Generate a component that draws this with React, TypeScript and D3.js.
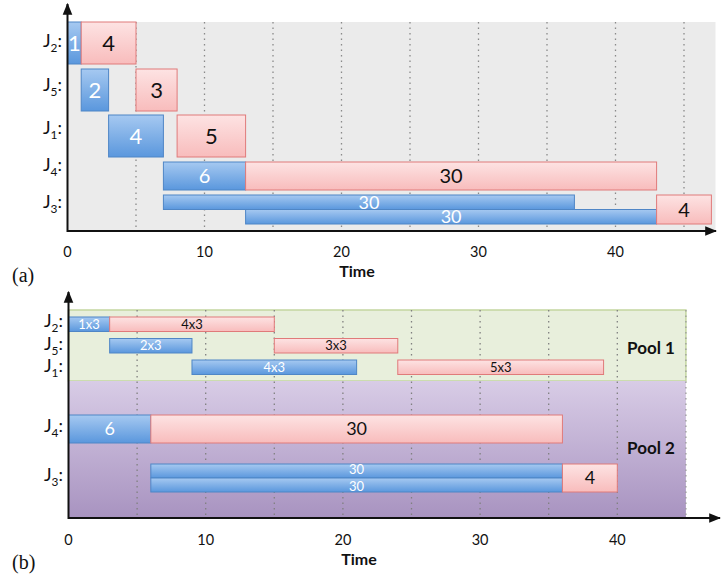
import React from "react";
import * as d3 from "d3";

// ---------- DATA ----------
const jobsA = ["2", "5", "1", "4", "3"]; // row order, top to bottom
const jobsB = ["2", "5", "1", "4", "3"];
const xTicks = [0, 10, 20, 30, 40];
const gridTicks = [5, 10, 15, 20, 25, 30, 35, 40, 45];

// (a) tasks: job, phase (map/reduce), start, duration, label, lane (sub-row)
const tasksA = [
  { job: "2", phase: "map", start: 0, dur: 1, label: "1", lane: 0 },
  { job: "2", phase: "reduce", start: 1, dur: 4, label: "4", lane: 0 },
  { job: "5", phase: "map", start: 1, dur: 2, label: "2", lane: 0 },
  { job: "5", phase: "reduce", start: 5, dur: 3, label: "3", lane: 0 },
  { job: "1", phase: "map", start: 3, dur: 4, label: "4", lane: 0 },
  { job: "1", phase: "reduce", start: 8, dur: 5, label: "5", lane: 0 },
  { job: "4", phase: "map", start: 7, dur: 6, label: "6", lane: 0 },
  { job: "4", phase: "reduce", start: 13, dur: 30, label: "30", lane: 0 },
  { job: "3", phase: "map", start: 7, dur: 30, label: "30", lane: 0 },
  { job: "3", phase: "map", start: 13, dur: 30, label: "30", lane: 1 },
  { job: "3", phase: "reduce", start: 43, dur: 4, label: "4", lane: -1 },
];

// (b) tasks
const tasksB = [
  { job: "2", phase: "map", start: 0, dur: 3, label: "1x3", lane: 0 },
  { job: "2", phase: "reduce", start: 3, dur: 12, label: "4x3", lane: 0 },
  { job: "5", phase: "map", start: 3, dur: 6, label: "2x3", lane: 0 },
  { job: "5", phase: "reduce", start: 15, dur: 9, label: "3x3", lane: 0 },
  { job: "1", phase: "map", start: 9, dur: 12, label: "4x3", lane: 0 },
  { job: "1", phase: "reduce", start: 24, dur: 15, label: "5x3", lane: 0 },
  { job: "4", phase: "map", start: 0, dur: 6, label: "6", lane: 0 },
  { job: "4", phase: "reduce", start: 6, dur: 30, label: "30", lane: 0 },
  { job: "3", phase: "map", start: 6, dur: 30, label: "30", lane: 0 },
  { job: "3", phase: "map", start: 6, dur: 30, label: "30", lane: 1 },
  { job: "3", phase: "reduce", start: 36, dur: 4, label: "4", lane: -1 },
];

const pools = ["Pool 1", "Pool 2"];
const poolEnd = 45;

// ---------- LAYOUT ----------
const W = 727;
const H = 575;
const FONT = "Lato, 'Open Sans', sans-serif";

// row bands (top, height) for each panel
const rowsA: Record<string, [number, number]> = {
  "2": [22, 42],
  "5": [69, 42],
  "1": [115, 42],
  "4": [162, 28],
  "3": [195, 29],
};
const rowsB: Record<string, [number, number]> = {
  "2": [317, 14.5],
  "5": [338.5, 14.5],
  "1": [360, 14.5],
  "4": [415, 28],
  "3": [464, 28],
};
const jobLabelYA: Record<string, number> = { "2": 47, "5": 91, "1": 134, "4": 171, "3": 208 };
const jobLabelYB: Record<string, number> = { "2": 327, "5": 350, "1": 372, "4": 432, "3": 481 };

const xA = d3.scaleLinear().domain([0, 10]).range([67.5, 204.5]);
const xB = d3.scaleLinear().domain([0, 10]).range([68.5, 205.7]);

function barY(rows: Record<string, [number, number]>, job: string, lane: number, lanes: number) {
  const [top, h] = rows[job];
  if (lane < 0 || lanes <= 1) return [top, h];
  const lh = h / lanes;
  return [top + lane * lh, lh];
}

function Bar({ t, x, rows, fontSize, lanes, nudge = 0 }: any) {
  const [y, h] = barY(rows, t.job, t.lane, lanes);
  const x0 = x(t.start);
  const x1 = x(t.start + t.dur);
  const isMap = t.phase === "map";
  const off = lanes > 1 && t.lane >= 0 ? (t.lane === 0 ? -nudge : nudge) : 0;
  return (
    <g>
      <rect
        x={x0}
        y={y}
        width={x1 - x0}
        height={h}
        fill={isMap ? "url(#gBlue)" : "url(#gRed)"}
        stroke={isMap ? "#4f86c6" : "#e07a7a"}
        strokeWidth={1}
      />
      <text
        x={(x0 + x1) / 2}
        y={y + h / 2 + off}
        dy="0.36em"
        textAnchor="middle"
        fontFamily={FONT}
        fontSize={fontSize}
        fill={isMap ? "#ffffff" : "#111"}
      >
        {t.label}
      </text>
    </g>
  );
}

function JobLabel({ x, y, job, size }: any) {
  return (
    <text x={x} y={y} fontFamily={FONT} fontSize={size} fill="#111" textAnchor="end">
      J
      <tspan fontSize={size * 0.66} dy={size * 0.3}>
        {job}
      </tspan>
      <tspan dy={-size * 0.3}>:</tspan>
    </text>
  );
}

export default function App() {
  const lanesOf = (tasks: any[], job: string) =>
    d3.max(tasks.filter((t) => t.job === job), (t: any) => t.lane + 1) || 1;

  const axisYA = 231;
  const axisYB = 518;
  const bgTopA = 22;
  const pool1Top = 310;
  const pool1Bot = 381;

  return (
    <svg width={W} height={H} style={{ position: "absolute", left: 0, top: 0 }}>
      <defs>
        <linearGradient id="gBlue" x1="0" y1="0" x2="0" y2="1">
          <stop offset="0" stopColor="#a6c9f1" />
          <stop offset="1" stopColor="#5a97dd" />
        </linearGradient>
        <linearGradient id="gRed" x1="0" y1="0" x2="0" y2="1">
          <stop offset="0" stopColor="#fde3e3" />
          <stop offset="1" stopColor="#f8bcbc" />
        </linearGradient>
        <linearGradient id="gPurple" x1="0" y1="0" x2="0" y2="1">
          <stop offset="0" stopColor="#d8cce6" />
          <stop offset="1" stopColor="#a893c0" />
        </linearGradient>
        <marker id="arrow" viewBox="0 0 10 10" refX="9" refY="5" markerWidth="6" markerHeight="6" orient="auto">
          <path d="M0,1 L10,5 L0,9 z" fill="#111" />
        </marker>
      </defs>

      {/* ================= (a) ================= */}
      <rect x={xA(0)} y={bgTopA} width={xA(47.3) - xA(0)} height={axisYA - bgTopA} fill="#ebebeb" />
      {gridTicks.map((v) => (
        <line
          key={"ga" + v}
          x1={xA(v)}
          x2={xA(v)}
          y1={bgTopA}
          y2={axisYA}
          stroke="#8a8a8a"
          strokeWidth={1.3}
          strokeDasharray="1.5,4"
        />
      ))}
      {tasksA.map((t, i) => (
        <Bar
          key={"a" + i}
          t={t}
          x={xA}
          rows={rowsA}
          lanes={lanesOf(tasksA, t.job)}
          fontSize={t.job === "3" && t.phase === "map" ? 18 : t.job === "4" || t.job === "3" ? 20 : 22}
        />
      ))}
      <line x1={xA(0)} x2={716} y1={axisYA} y2={axisYA} stroke="#111" strokeWidth={2} markerEnd="url(#arrow)" />
      <line x1={xA(0)} x2={xA(0)} y1={axisYA + 1} y2={4} stroke="#111" strokeWidth={2} markerEnd="url(#arrow)" />
      {xTicks.map((v) => (
        <text key={"ta" + v} x={xA(v)} y={257} textAnchor="middle" fontFamily={FONT} fontSize={14.5} fill="#111">
          {v}
        </text>
      ))}
      <text x={357} y={277} textAnchor="middle" fontFamily={FONT} fontWeight="bold" fontSize={16} fill="#111">
        Time
      </text>
      {jobsA.map((j) => (
        <JobLabel key={"ja" + j} x={62} y={jobLabelYA[j]} job={j} size={18} />
      ))}
      <text x={12} y={282} fontFamily="'Liberation Serif', 'Times New Roman', serif" fontSize={20} fill="#111">
        (a)
      </text>

      {/* ================= (b) ================= */}
      <rect
        x={xB(0)}
        y={pool1Top}
        width={xB(poolEnd) - xB(0)}
        height={pool1Bot - pool1Top}
        fill="#e8efdc"
        stroke="#c3d6a0"
        strokeWidth={1.5}
      />
      <rect x={xB(0)} y={pool1Bot} width={xB(poolEnd) - xB(0)} height={axisYB - pool1Bot} fill="url(#gPurple)" />
      {gridTicks.map((v) => (
        <line
          key={"gb" + v}
          x1={xB(v)}
          x2={xB(v)}
          y1={pool1Top}
          y2={axisYB}
          stroke={v === poolEnd ? "#9a9a9a" : "#808080"}
          strokeWidth={1.3}
          strokeDasharray="1.5,4"
        />
      ))}
      {tasksB.map((t, i) => (
        <Bar
          key={"b" + i}
          t={t}
          x={xB}
          rows={rowsB}
          lanes={lanesOf(tasksB, t.job)}
          nudge={1.2}
          fontSize={t.job === "4" || t.job === "3" ? (t.phase === "map" && t.job === "3" ? 13 : 18) : 13}
        />
      ))}
      <text x={651} y={348} dy="0.36em" textAnchor="middle" fontFamily={FONT} fontWeight="bold" fontSize={17} fill="#111">
        {pools[0]}
      </text>
      <text x={651} y={448} dy="0.36em" textAnchor="middle" fontFamily={FONT} fontWeight="bold" fontSize={17} fill="#111">
        {pools[1]}
      </text>
      <line x1={xB(0)} x2={720} y1={axisYB} y2={axisYB} stroke="#111" strokeWidth={2} markerEnd="url(#arrow)" />
      <line x1={xB(0)} x2={xB(0)} y1={axisYB + 1} y2={292} stroke="#111" strokeWidth={2} markerEnd="url(#arrow)" />
      {xTicks.map((v) => (
        <text key={"tb" + v} x={xB(v)} y={545} textAnchor="middle" fontFamily={FONT} fontSize={14.5} fill="#111">
          {v}
        </text>
      ))}
      <text x={359} y={565} textAnchor="middle" fontFamily={FONT} fontWeight="bold" fontSize={16} fill="#111">
        Time
      </text>
      {jobsB.map((j) => (
        <JobLabel key={"jb" + j} x={63} y={jobLabelYB[j]} job={j} size={18} />
      ))}
      <text x={12} y={569} fontFamily="'Liberation Serif', 'Times New Roman', serif" fontSize={20} fill="#111">
        (b)
      </text>
    </svg>
  );
}
